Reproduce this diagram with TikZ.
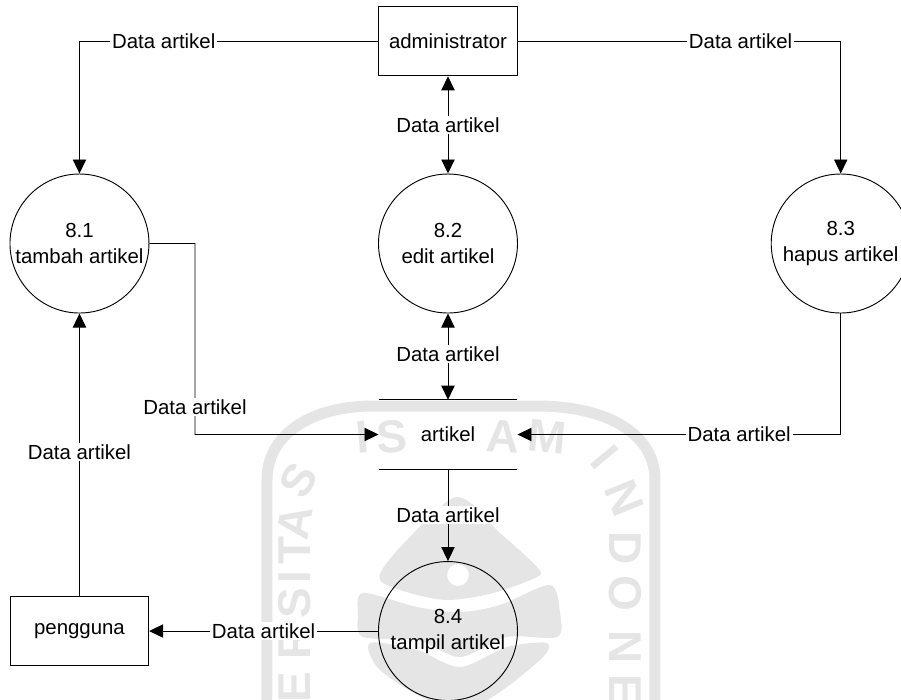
\documentclass[tikz,border=0pt]{standalone}
\usepackage{fontspec}
\setmainfont{Liberation Sans}
\usetikzlibrary{calc}
\usetikzlibrary{arrows.meta,shapes}
\definecolor{wmgray}{gray}{.9}

\begin{document}
\begin{tikzpicture}[>={Triangle[length=3.7mm,width=3.5mm]},
    font=\fontsize{15.3}{19.5}\selectfont,
    process/.style={circle,draw,line width=.7pt,minimum size=3.664cm,inner sep=0pt,align=center},
    entity/.style={rectangle,draw,line width=.7pt,minimum width=3.647cm,minimum height=1.833cm,inner sep=0pt},
    datastore/.style={rectangle,minimum width=3.647cm,minimum height=1.819cm,inner sep=0pt},
    flow/.style={line width=.7pt,black},
    flowlabel/.style={fill=white,inner xsep=1.5pt,inner ysep=1pt},
    wmletter/.style={wmgray,inner sep=0pt,font=\fontsize{34.5}{34.5}\selectfont\bfseries}]

  \useasboundingbox (-336pt,30.75pt) rectangle (339.75pt,-494.25pt);

  % watermark, in pixels of the page
  \begin{scope}[x=.75pt,y=-.75pt,shift={(-336pt,30.75pt)}]
    \draw[wmgray,line width=8.25pt] (267,710) -- (267,480) .. controls (267,435) and (310,407) .. (370,406)
      -- (540,406) .. controls (610,407) and (655,435) .. (655,480) -- (655,710);
    \foreach \ch/\px/\py/\ang [count=\n] in {E/295/687/90,R/295/643/90,S/295/603/90,I/295/577/90,T/295/550/90,
        A/295/522/80,S/298/480/60,I/362/437/5,S/392/437/3,A/503/437/-3,M/547/437/-6,
        I/605/457/-50,N/624/498/-68,D/625/548/-90,O/625/593/-90,N/625/647/-90,E/625/690/-90}
      \node[wmletter,rotate=\ang] (wm\n) at (\px,\py) {\ch};
    \fill[wmgray,even odd rule] plot[smooth cycle] coordinates {(457,497) (407,540) (382,570) (383,583) (417,595)
      (450,600) (493,593) (537,577) (537,567) (500,533)} (458,575) circle (11);
    \fill[wmgray] plot[smooth cycle] coordinates {(363,593) (417,607) (460,612) (500,605) (550,585) (560,613)
      (557,637) (507,637) (460,657) (417,640) (363,637) (358,615)};
    \fill[wmgray] plot[smooth cycle] coordinates {(370,643) (417,650) (460,667) (507,647) (547,643) (540,660)
      (483,702) (433,702) (380,670)};
  \end{scope}

  \node[entity] (admin) {administrator};
  \node[process,node distance=5.338cm] (pb) [below of=admin] {8.2\\edit artikel};
  \node[process,node distance=9.714cm] (pa) [left of=pb] {8.1\\tambah artikel};
  \node[process,node distance=10.352cm] (pc) [right of=pb] {8.3\\hapus artikel};
  \node[datastore,node distance=5.035cm] (store) [below of=pb] {artikel};
  \node[process,node distance=5.18cm] (pd) [below of=store] {8.4\\tampil artikel};
  \node[entity,node distance=9.714cm] (user) [left of=pd] {pengguna};
  \coordinate (bend) at ($(pa)+(3.045,-5.035)$);

  \draw [flow] (store.north west) -- (store.north east);
  \draw [flow] (store.south west) -- (store.south east);

  \draw [flow,->] (admin.west) -| node[flowlabel,pos=.359] {Data artikel} (pa.north);
  \draw [flow,->] (admin.east) -| node[flowlabel,pos=.345] {Data artikel} (pc.north);
  \draw [flow,<->] (admin.south) -- node[flowlabel] {Data artikel} (pb.north);
  \draw [flow,<->] (pb.south) -- node[flowlabel,pos=.47] {Data artikel} (store.north);
  \draw [flow,->] (store.south) -- node[flowlabel] {Data artikel} (pd.north);
  \draw [flow,->] (pa.east) -| node[flowlabel,pos=.928] {Data artikel} (bend) -- (store.west);
  \draw [flow,->] (pc.south) |- node[flowlabel,pos=.657] {Data artikel} (store.east);
  \draw [flow,->] (user.north) -- node[flowlabel,pos=.51] {Data artikel} (pa.south);
  \draw [flow,->] (pd.west) -- node[flowlabel] {Data artikel} (user.east);
\end{tikzpicture}
\end{document}
